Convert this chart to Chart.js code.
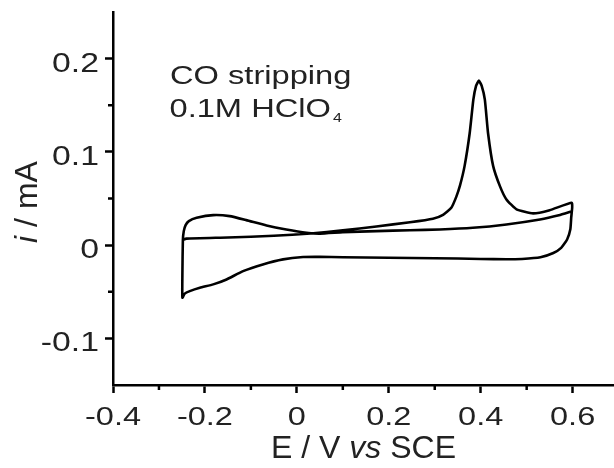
<!DOCTYPE html>
<html>
<head>
<meta charset="utf-8">
<title>CO stripping</title>
<script src="https://cdn.jsdelivr.net/npm/chart.js@4/dist/chart.umd.min.js"></script>
<style>
  html, body { margin: 0; padding: 0; background: #fff; }
  #cvChart { display: block; }
</style>
</head>
<body>
<canvas id="cvChart" width="614" height="468"></canvas>
<script>
// CV trace, E / V vs SCE and i / mA, in scan order
const potential = [
  -0.249, -0.240, -0.150, -0.050, 0.030, 0.100, 0.173, 0.246, 0.296, 0.318,
  0.336, 0.347, 0.355, 0.365, 0.376, 0.384, 0.390, 0.396, 0.402, 0.409,
  0.416, 0.427, 0.442, 0.456, 0.478, 0.514, 0.550, 0.598,
  0.599, 0.597, 0.595, 0.588, 0.575, 0.558, 0.530, 0.490, 0.456, 0.400,
  0.300, 0.200, 0.100, 0.050, 0.0135, -0.030, -0.074, -0.117, -0.153, -0.182,
  -0.211, -0.233, -0.244, -0.249,
  -0.249, -0.248, -0.246, -0.242, -0.235, -0.218, -0.182, -0.146, -0.110, -0.066,
  -0.023, 0.021, 0.050, 0.100, 0.173, 0.246, 0.311, 0.383, 0.456, 0.529,
  0.570, 0.597
];
const current = [
  0.0054, 0.0070, 0.0082, 0.0100, 0.0125, 0.0158, 0.0200, 0.0245, 0.0283, 0.0325,
  0.0400, 0.0520, 0.0640, 0.0850, 0.1200, 0.1560, 0.1710, 0.1765, 0.1710, 0.1560,
  0.1200, 0.0850, 0.0630, 0.0490, 0.0383, 0.0340, 0.0375, 0.0454,
  0.0400, 0.0300, 0.0170, 0.0060, -0.0030, -0.0085, -0.0130, -0.0148, -0.0152, -0.0148,
  -0.0140, -0.0136, -0.0130, -0.0126, -0.0128, -0.0153, -0.0207, -0.0279, -0.0368, -0.0421,
  -0.0457, -0.0493, -0.0520, -0.0564,
  -0.0300, 0.0050, 0.0150, 0.0215, 0.0258, 0.0293, 0.0322, 0.0311, 0.0268, 0.0211,
  0.0168, 0.0133, 0.0123, 0.0138, 0.0150, 0.0160, 0.0168, 0.0186, 0.0222, 0.0275,
  0.0320, 0.0360
];

const xTicks = [-0.4, -0.2, 0, 0.2, 0.4, 0.6];
const yTicks = [-0.1, 0, 0.1, 0.2];
const xMinor = [-0.3, -0.1, 0.1, 0.3, 0.5];
const yMinor = [-0.05, 0.05, 0.15];

const FONT = '"Liberation Sans", Arial, sans-serif';
const INK = "#222";

// the original figure uses a horizontally stretched face for ticks and note
const putText = (ctx, text, x, y, size, sx, align, italic) => {
  ctx.save();
  ctx.font = (italic ? "italic " : "") + size + "px " + FONT;
  const w = ctx.measureText(text).width * sx;
  let left = x;
  if (align === "right") left = x - w;
  if (align === "center") left = x - w / 2;
  ctx.translate(left, y);
  ctx.scale(sx, 1);
  ctx.textAlign = "left";
  ctx.textBaseline = "alphabetic";
  ctx.fillStyle = INK;
  ctx.fillText(text, 0, 0);
  ctx.restore();
  return w;
};

const fmt = (v) => (Math.abs(v) < 1e-9 ? "0" : String(v));

const decorations = {
  id: "decorations",
  afterDraw(chart) {
    const { ctx, chartArea, scales } = chart;
    const xs = scales.x;
    const ys = scales.y;

    // minor ticks
    ctx.save();
    ctx.strokeStyle = "#000";
    ctx.lineWidth = 2.5;
    ctx.beginPath();
    xMinor.forEach((v) => {
      const px = xs.getPixelForValue(v);
      ctx.moveTo(px, chartArea.bottom);
      ctx.lineTo(px, chartArea.bottom + 5);
    });
    yMinor.forEach((v) => {
      const py = ys.getPixelForValue(v);
      ctx.moveTo(chartArea.left - 5, py);
      ctx.lineTo(chartArea.left, py);
    });
    ctx.stroke();
    ctx.restore();

    // tick labels
    xTicks.forEach((v) => {
      putText(ctx, fmt(v), xs.getPixelForValue(v), 424.5, 25, 1.3, "center");
    });
    yTicks.forEach((v) => {
      putText(ctx, fmt(v), chartArea.left - 14, ys.getPixelForValue(v) + 13, 27, 1.25, "right");
    });

    // note
    putText(ctx, "CO stripping", 170, 83.5, 25.5, 1.28, "left");
    const w = putText(ctx, "0.1M HClO", 169.5, 117, 25.5, 1.28, "left");
    putText(ctx, "4", 169.5 + w + 2, 122, 12.5, 1.28, "left");

    // x title: E / V vs SCE
    ctx.save();
    ctx.fillStyle = INK;
    ctx.textBaseline = "alphabetic";
    const parts = [["E / V ", false], ["vs", true], [" SCE", false]];
    let total = 0;
    parts.forEach(([t, it]) => {
      ctx.font = (it ? "italic " : "") + "32px " + FONT;
      total += ctx.measureText(t).width;
    });
    let cx = (chartArea.left + chartArea.right) / 2 - total / 2;
    parts.forEach(([t, it]) => {
      ctx.font = (it ? "italic " : "") + "32px " + FONT;
      ctx.fillText(t, cx, 458);
      cx += ctx.measureText(t).width;
    });
    ctx.restore();

    // y title: i / mA
    ctx.save();
    ctx.fillStyle = INK;
    ctx.translate(37, 202);
    ctx.rotate(-Math.PI / 2);
    const yParts = [["i", true], [" / mA", false]];
    let ytotal = 0;
    yParts.forEach(([t, it]) => {
      ctx.font = (it ? "italic " : "") + "32px " + FONT;
      ytotal += ctx.measureText(t).width;
    });
    let cy = -ytotal / 2;
    yParts.forEach(([t, it]) => {
      ctx.font = (it ? "italic " : "") + "32px " + FONT;
      ctx.fillText(t, cy, 0);
      cy += ctx.measureText(t).width;
    });
    ctx.restore();
  },
};

const axisLook = {
  border: { display: true, color: "#000", width: 2.5 },
  grid: {
    drawOnChartArea: false,
    drawTicks: true,
    tickLength: 8,
    tickWidth: 2.5,
    tickColor: "#000",
  },
  ticks: { display: false },
};

new Chart(document.getElementById("cvChart"), {
  type: "scatter",
  data: {
    datasets: [
      {
        label: "CO stripping",
        data: potential.map((e, k) => ({ x: e, y: current[k] })),
        showLine: true,
        borderColor: "#000",
        borderWidth: 2.6,
        pointRadius: 0,
        tension: 0.15,
        fill: false,
      },
    ],
  },
  options: {
    responsive: false,
    animation: false,
    events: [],
    layout: { padding: { top: 12, right: 0, left: 0, bottom: 0 } },
    plugins: {
      legend: { display: false },
      tooltip: { enabled: false },
    },
    scales: {
      x: {
        ...axisLook,
        type: "linear",
        min: -0.4,
        max: 0.69,
        afterBuildTicks: (scale) => {
          scale.ticks = xTicks.map((v) => ({ value: v }));
        },
        afterFit: (scale) => {
          scale.height = 83;
        },
      },
      y: {
        ...axisLook,
        type: "linear",
        min: -0.15,
        max: 0.25,
        afterBuildTicks: (scale) => {
          scale.ticks = yTicks.map((v) => ({ value: v }));
        },
        afterFit: (scale) => {
          scale.width = 113;
        },
      },
    },
  },
  plugins: [decorations],
});
</script>
</body>
</html>
